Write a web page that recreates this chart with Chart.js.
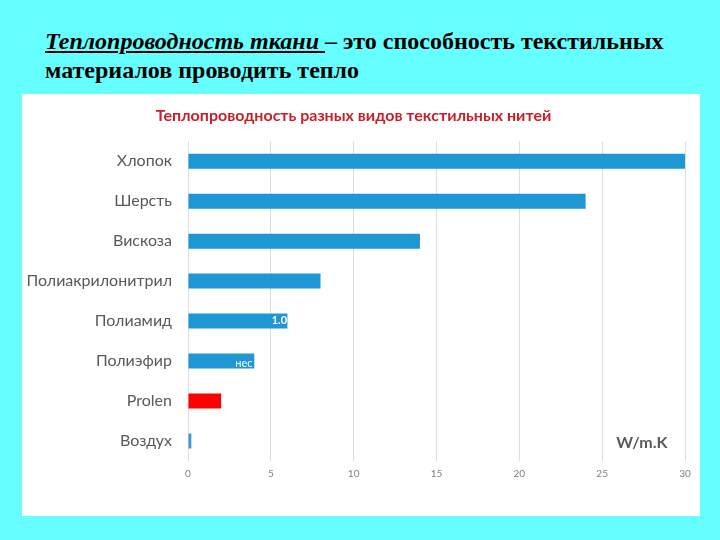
<!DOCTYPE html>
<html>
<head>
<meta charset="utf-8">
<script src="https://cdn.jsdelivr.net/npm/chart.js@4.4.1/dist/chart.umd.min.js"></script>
<style>
    html, body { margin: 0; padding: 0; }
    body { width: 720px; height: 540px; background: #66FFFF; position: relative; overflow: hidden; }
    #head {
        position: absolute; left: 45px; top: 27px;
        font-family: "Liberation Serif", "Times New Roman", serif;
        font-weight: bold; font-size: 24px; line-height: 29px; color: #000;
        white-space: nowrap;
    }
    #panel { position: absolute; left: 22px; top: 94px; width: 678px; height: 422px; background: #fff; }
</style>
</head>
<body>
<div id="head"><u><i>Теплопроводность ткани </i></u>– это способность текстильных<br>материалов проводить тепло</div>
<div id="panel"><canvas id="ctx-heat" width="678" height="422"></canvas></div>
<script>
const categories = ['Хлопок', 'Шерсть', 'Вискоза', 'Полиакрилонитрил', 'Полиамид', 'Полиэфир', 'Prolen', 'Воздух'];
const values = [30, 24, 14, 8, 6, 4, 2, 0.2];
const barColors = ['#1F97D4', '#1F97D4', '#1F97D4', '#1F97D4', '#1F97D4', '#1F97D4', '#FF0000', '#3C9AD0'];
const xTicks = [0, 5, 10, 15, 20, 25, 30];

const font = 'Lato, "Open Sans", sans-serif';

// unit label + the leftover white text that peeks over two bars
const extraText = {
    id: 'extraText',
    afterDatasetsDraw(chart) {
        const c = chart.ctx;
        const x = chart.scales.x;
        const y = chart.scales.y;
        c.save();
        c.fillStyle = '#595959';
        c.font = 'bold 16px ' + font;
        c.textAlign = 'center';
        c.textBaseline = 'middle';
        c.fillText('W/m.K', x.getPixelForValue(27.4), y.getPixelForValue(7) + 2);

        c.fillStyle = '#ffffff';
        c.textAlign = 'left';
        c.font = 'bold 11px ' + font;
        c.fillText('1.0', x.getPixelForValue(5.05), y.getPixelForValue(4) - 1);
        c.font = '11px ' + font;
        c.fillText('нес', x.getPixelForValue(2.85), y.getPixelForValue(5) + 2);
        c.restore();
    }
};

new Chart(document.getElementById('ctx-heat'), {
    type: 'bar',
    data: {
        labels: categories,
        datasets: [{
            data: values,
            backgroundColor: barColors,
            borderWidth: 0,
            barPercentage: 0.75,
            categoryPercentage: 0.5
        }]
    },
    options: {
        indexAxis: 'y',
        responsive: false,
        animation: false,
        layout: { padding: { left: 0, right: 15, top: 0, bottom: 0 } },
        plugins: {
            legend: { display: false },
            tooltip: { enabled: false },
            title: {
                display: true,
                text: 'Теплопроводность разных видов текстильных нитей',
                color: '#C8202A',
                font: { family: font, size: 16, weight: 'bold' },
                padding: { top: 12, bottom: 16 }
            }
        },
        scales: {
            x: {
                min: 0,
                max: 30,
                afterBuildTicks: (s) => { s.ticks = xTicks.map(v => ({ value: v })); },
                afterFit: (s) => { s.height = 55; },
                grid: { color: '#DDDDDD', drawTicks: false },
                border: { display: false },
                ticks: { color: '#7F7F7F', font: { family: font, size: 10 }, padding: 7 }
            },
            y: {
                afterFit: (s) => { s.width = 166; },
                grid: { display: false },
                border: { display: false },
                ticks: { color: '#595959', font: { family: font, size: 16 }, padding: 8 }
            }
        }
    },
    plugins: [extraText]
});
</script>
</body>
</html>
